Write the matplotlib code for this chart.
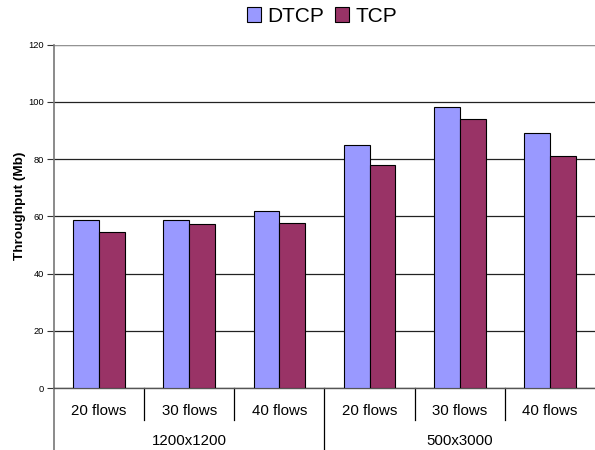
import matplotlib
matplotlib.use("Agg")
import matplotlib.pyplot as plt
from matplotlib.transforms import blended_transform_factory
from matplotlib.patches import Patch
import numpy as np

plt.rcParams['font.family'] = ['Liberation Sans', 'DejaVu Sans']

flows = ["20 flows", "30 flows", "40 flows", "20 flows", "30 flows", "40 flows"]
topologies = ["1200x1200", "500x3000"]
dtcp = [58.7, 58.8, 61.8, 85.0, 98.1, 89.0]
tcp = [54.6, 57.4, 57.7, 77.8, 94.0, 81.0]
yticks = [0, 20, 40, 60, 80, 100, 120]

fig = plt.figure(figsize=(5.95, 4.5), dpi=100)
ax = fig.add_axes([54 / 595, 1 - 388 / 450, 1 - 54 / 595, (388 - 44.7) / 450])

x = np.arange(len(flows))
w = 0.287
ax.bar(x - w / 2, dtcp, w, color="#9999FF", edgecolor="black", linewidth=0.8, zorder=3, label="DTCP")
ax.bar(x + w / 2, tcp, w, color="#993366", edgecolor="black", linewidth=0.8, zorder=3, label="TCP")

ax.set_xlim(-0.5, len(flows) - 0.5)
ax.set_ylim(0, 120)
ax.set_yticks(yticks)
ax.set_yticklabels([str(t) for t in yticks], fontsize=6.7)
ax.tick_params(axis="y", length=5, width=0.8, color="#333333", pad=2)
ax.yaxis.grid(True, color="#222222", linewidth=0.9, zorder=0)
ax.set_axisbelow(True)

for s in ["top", "right"]:
    ax.spines[s].set_visible(False)
ax.axhline(120, color="#aaaaaa", linewidth=1.2, zorder=1)
ax.spines["left"].set_color("#777777")
ax.spines["left"].set_linewidth(1.2)
ax.spines["bottom"].set_color("#555555")
ax.spines["bottom"].set_linewidth(1.0)

ax.set_ylabel("Throughput (Mb)", fontsize=9.7, fontweight="bold")
ax.yaxis.set_label_coords(-0.052, 0.53)

# two-level category axis
ax.set_xticks([])
trans = blended_transform_factory(ax.transData, ax.transAxes)
ax_h = (388 - 44.7)
def frac(px):
    return -px / ax_h

for i, lab in enumerate(flows):
    ax.text(i, frac(23), lab, transform=trans, ha="center", va="center", fontsize=10.8)
for b in [0.5, 1.5, 3.5, 4.5]:
    ax.plot([b, b], [0, frac(32)], transform=trans, color="black", linewidth=0.9, clip_on=False)
for b in [-0.5, 2.5]:
    ax.plot([b, b], [0, frac(70)], transform=trans,
            color="#777777" if b < 0 else "black", linewidth=1.2 if b < 0 else 0.9, clip_on=False)
for j, lab in enumerate(topologies):
    ax.text(3 * j + 1, frac(53), lab, transform=trans, ha="center", va="center", fontsize=10.8)

handles = [Patch(facecolor="#9999FF", edgecolor="black", linewidth=0.8),
           Patch(facecolor="#993366", edgecolor="black", linewidth=0.8)]
fig.legend(handles, ["DTCP", "TCP"], loc="center", bbox_to_anchor=(322 / 595, 1 - 16 / 450),
           ncol=2, frameon=False, fontsize=15, handlelength=0.7, handleheight=0.7,
           handletextpad=0.3, columnspacing=0.5, borderaxespad=0)

fig.savefig("out.png", dpi=100)
